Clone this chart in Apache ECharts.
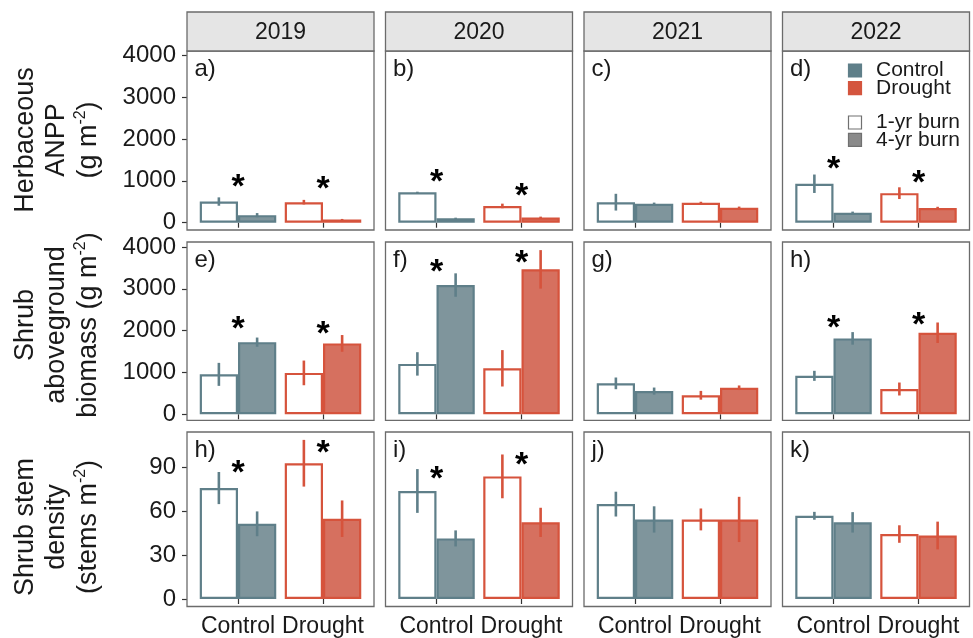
<!DOCTYPE html>
<html>
<head>
<meta charset="utf-8">
<script src="https://cdn.jsdelivr.net/npm/echarts@6/dist/echarts.min.js"></script>
<style>
  html, body { margin: 0; padding: 0; background: #fff; }
  #chart { width: 973px; height: 638px; }
</style>
</head>
<body>
<div id="chart"></div>
<script>
// ---------------- data ----------------
const years = ['2019', '2020', '2021', '2022'];
const treatments = ['Control', 'Drought'];
const burns = ['1-yr burn', '4-yr burn'];
const panelLetters = [
  ['a)', 'b)', 'c)', 'd)'],
  ['e)', 'f)', 'g)', 'h)'],
  ['h)', 'i)', 'j)', 'k)']
];

// Herbaceous ANPP (g m-2); each entry is one year: [Control, Drought]
const anppMean1yr = [[505, 490], [725, 400], [490, 475], [930, 705]];
const anppSe1yr   = [[100, 55], [15, 55], [200, 25], [220, 140]];
const anppMean4yr = [[180, 75], [105, 125], [450, 355], [235, 350]];
const anppSe4yr   = [[50, 15], [15, 20], [30, 30], [30, 30]];
const anppSigY    = [[1015, 960], [1130, 800], [null, null], [1435, 1100]];

// Shrub aboveground biomass (g m-2)
const biomassMean1yr = [[955, 990], [1205, 1100], [740, 455], [920, 605]];
const biomassSe1yr   = [[275, 295], [280, 435], [140, 105], [120, 155]];
const biomassMean4yr = [[1725, 1695], [3090, 3465], [555, 635], [1815, 1950]];
const biomassSe4yr   = [[110, 200], [280, 460], [85, 55], [150, 245]];
const biomassSigY    = [[2185, 2070], [3565, 3770], [null, null], [2210, 2285]];

// Shrub stem density (stems m-2)
const densityMean1yr = [[76, 93], [74, 84], [65, 54.5], [57, 44.5]];
const densitySe1yr   = [[11, 16], [15, 15], [8.5, 7.5], [2.7, 6]];
const densityMean4yr = [[51.5, 55], [41.5, 52.5], [54.5, 54.5], [52.5, 43.5]];
const densitySe4yr   = [[8.5, 12.5], [5.5, 10], [9, 15.5], [7, 9.5]];
const densitySigY    = [[90.5, 104.5], [86.5, 96], [null, null], [null, null]];

const massTicks = [0, 1000, 2000, 3000, 4000];
const densityTicks = [0, 30, 60, 90];

const rowData = [
  { m1: anppMean1yr, s1: anppSe1yr, m4: anppMean4yr, s4: anppSe4yr, sig: anppSigY, ticks: massTicks },
  { m1: biomassMean1yr, s1: biomassSe1yr, m4: biomassMean4yr, s4: biomassSe4yr, sig: biomassSigY, ticks: massTicks },
  { m1: densityMean1yr, s1: densitySe1yr, m4: densityMean4yr, s4: densitySe4yr, sig: densitySigY, ticks: densityTicks }
];

// ---------------- look ----------------
const FONT = '"Liberation Sans", Arial, Helvetica, sans-serif';
const TEXT = '#1a1a1a';
const lineColor = ['#5f7f89', '#d6533c'];
const fillColor = ['#7f959c', '#d6705f'];
const frameColor = '#6b6b6b';

const panelLeft = [187, 385.5, 584, 782.5];
const panelW = 187;
const panelTop = [51, 242, 432];
const panelH = [179, 178.3, 174.5];
const yRange = [[-174, 4098], [-143, 4119], [-4.8, 114.4]];
// discrete x scale: two categories spread over 2.2 units (0.6 padding each side)
const band = panelW / 2.2;
const gridInset = (panelW - 2 * band) / 2;

const grids = [], xAxes = [], yAxes = [], series = [], graphics = [];

rowData.forEach((rd, r) => {
  years.forEach((yr, c) => {
    const gi = r * 4 + c;
    grids.push({
      left: panelLeft[c] + gridInset,
      top: panelTop[r],
      width: 2 * band,
      height: panelH[r],
      containLabel: false
    });
    xAxes.push({
      type: 'category',
      gridIndex: gi,
      data: treatments,
      axisLine: { show: false },
      axisTick: { show: true, interval: 0, alignWithLabel: true, length: 5, lineStyle: { color: '#333', width: 1.2 } },
      axisLabel: { show: r === 2, interval: 0, hideOverlap: false, margin: 9, fontFamily: FONT, fontSize: 23, color: TEXT }
    });
    yAxes.push({
      type: 'value',
      gridIndex: gi,
      min: yRange[r][0],
      max: yRange[r][1],
      offset: gridInset,
      axisLine: { show: false },
      splitLine: { show: false },
      axisTick: { show: c === 0, length: 5, customValues: rd.ticks, lineStyle: { color: '#333', width: 1.2 } },
      axisLabel: {
        show: c === 0, margin: 11, customValues: rd.ticks,
        formatter: v => String(v),
        fontFamily: FONT, fontSize: 24, color: TEXT
      }
    });

    // bars: 1-yr burn (open) and 4-yr burn (filled)
    series.push({
      name: burns[0], type: 'bar', xAxisIndex: gi, yAxisIndex: gi,
      barGap: '0%', barCategoryGap: '10%',
      data: treatments.map((t, ti) => ({
        value: rd.m1[c][ti],
        itemStyle: { color: '#ffffff', borderColor: lineColor[ti], borderWidth: 2.2 }
      }))
    });
    series.push({
      name: burns[1], type: 'bar', xAxisIndex: gi, yAxisIndex: gi,
      barGap: '0%', barCategoryGap: '10%',
      data: treatments.map((t, ti) => ({
        value: rd.m4[c][ti],
        itemStyle: { color: fillColor[ti], borderColor: lineColor[ti], borderWidth: 2.2 }
      }))
    });

    // standard-error whiskers
    const eb = [];
    treatments.forEach((t, ti) => {
      eb.push([ti, rd.m1[c][ti] - rd.s1[c][ti], rd.m1[c][ti] + rd.s1[c][ti], 0, ti]);
      eb.push([ti, rd.m4[c][ti] - rd.s4[c][ti], rd.m4[c][ti] + rd.s4[c][ti], 1, ti]);
    });
    series.push({
      type: 'custom', xAxisIndex: gi, yAxisIndex: gi, z: 5,
      encode: { x: 0, y: [1, 2] },
      data: eb,
      renderItem(params, api) {
        const cat = api.value(0);
        const lo = api.coord([cat, api.value(1)]);
        const hi = api.coord([cat, api.value(2)]);
        const bw = api.size([1, 0])[0];
        const dx = (api.value(3) === 0 ? -1 : 1) * bw * 0.9 / 4;
        return {
          type: 'line',
          shape: { x1: lo[0] + dx, y1: lo[1], x2: hi[0] + dx, y2: hi[1] },
          style: { stroke: lineColor[api.value(4)], lineWidth: 2.6 }
        };
      }
    });

    // significance markers
    const stars = [];
    treatments.forEach((t, ti) => {
      if (rd.sig[c][ti] != null) stars.push([ti, rd.sig[c][ti]]);
    });
    series.push({
      type: 'scatter', xAxisIndex: gi, yAxisIndex: gi, z: 6,
      symbol: 'circle', symbolSize: 1,
      itemStyle: { color: 'rgba(0,0,0,0)' },
      label: {
        show: true, position: 'inside', formatter: '*',
        fontFamily: FONT, fontSize: 34, fontWeight: 'bold', color: '#000000', opacity: 1, offset: [0, 7]
      },
      data: stars
    });

    // panel frame
    graphics.push({
      type: 'rect', z: 10,
      shape: { x: panelLeft[c], y: panelTop[r], width: panelW, height: panelH[r] },
      style: { fill: 'none', stroke: frameColor, lineWidth: 1.3 }
    });
    // panel letter
    graphics.push({
      type: 'text', z: 10,
      x: panelLeft[c] + 7.5, y: panelTop[r] + 18.7,
      style: { text: panelLetters[r][c], font: '24px ' + FONT, fill: TEXT, align: 'left', verticalAlign: 'middle' }
    });
  });
});

// facet strips
years.forEach((yr, c) => {
  graphics.push({
    type: 'rect', z: 10,
    shape: { x: panelLeft[c], y: 12, width: panelW, height: 39 },
    style: { fill: '#e5e5e5', stroke: frameColor, lineWidth: 1.3 }
  });
  graphics.push({
    type: 'text', z: 11,
    x: panelLeft[c] + panelW / 2, y: 32.5,
    style: { text: yr, font: '23px ' + FONT, fill: TEXT, align: 'center', verticalAlign: 'middle' }
  });
});

// row titles (rotated)
const supRich = { sup: { fontSize: 16, fontFamily: FONT, verticalAlign: 'top', padding: [0, 0, 10, 0] } };
const rowTitles = [
  { text: 'Herbaceous\nANPP\n(g m{sup|-2})', y: 140 },
  { text: 'Shrub\naboveground\nbiomass (g m{sup|-2})', y: 325 },
  { text: 'Shrub stem\ndensity\n(stems m{sup|-2})', y: 527 }
];
rowTitles.forEach(t => {
  graphics.push({
    type: 'text', z: 10,
    x: 57, y: t.y, rotation: Math.PI / 2,
    style: {
      text: t.text, font: '27px ' + FONT, fill: TEXT,
      align: 'center', verticalAlign: 'middle', lineHeight: 31.5,
      rich: supRich
    }
  });
});

// legend (colour = treatment, fill = burn interval)
const legendX = 848.5, legendTextX = 876;
const legendItems = [
  { label: 'Control', y: 64, fill: '#5f7f89', stroke: '#5f7f89' },
  { label: 'Drought', y: 81.7, fill: '#d4553e', stroke: '#d4553e' },
  { label: '1-yr burn', y: 116, fill: '#ffffff', stroke: '#707070' },
  { label: '4-yr burn', y: 133.3, fill: '#8a8a8a', stroke: '#707070' }
];
legendItems.forEach(it => {
  graphics.push({
    type: 'rect', z: 10,
    shape: { x: legendX, y: it.y, width: 13, height: 13 },
    style: { fill: it.fill, stroke: it.stroke, lineWidth: 1.2 }
  });
  graphics.push({
    type: 'text', z: 10,
    x: legendTextX, y: it.y + 6.7,
    style: { text: it.label, font: '21px ' + FONT, fill: TEXT, align: 'left', verticalAlign: 'middle' }
  });
});

const chart = echarts.init(document.getElementById('chart'), null, { renderer: 'canvas' });
chart.setOption({
  animation: false,
  backgroundColor: '#ffffff',
  grid: grids,
  xAxis: xAxes,
  yAxis: yAxes,
  series: series,
  graphic: graphics
});
</script>
</body>
</html>
